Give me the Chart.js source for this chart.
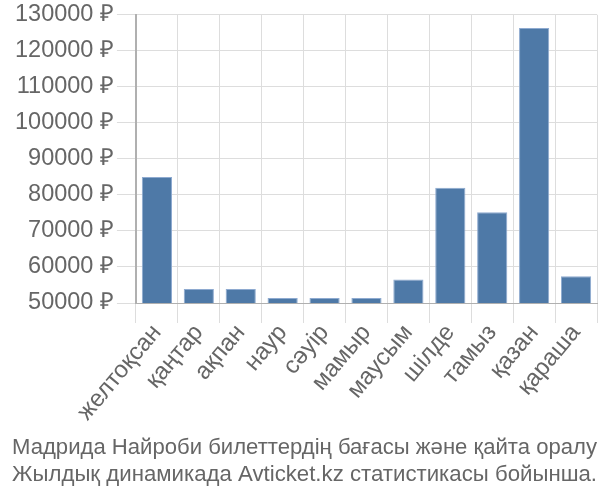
<!DOCTYPE html>
<html>
<head>
<meta charset="utf-8">
<script src="https://cdn.jsdelivr.net/npm/chart.js@4"></script>
<style>
  html, body { margin: 0; padding: 0; background: #fff; }
  #wrap { width: 600px; height: 500px; }
</style>
</head>
<body>
<div id="wrap"><canvas id="chart" width="600" height="500"></canvas></div>
<script>
const months = ['желтоқсан', 'қаңтар', 'ақпан', 'наур', 'сәуір', 'мамыр', 'маусым', 'шілде', 'тамыз', 'қазан', 'қараша'];
const prices = [85000, 53900, 53900, 51400, 51400, 51400, 56500, 82000, 75200, 126300, 57400];
const yTicks = [50000, 60000, 70000, 80000, 90000, 100000, 110000, 120000, 130000];
const titleLines = ['Мадрида Найроби билеттердің бағасы және қайта оралу', 'Жылдық динамикада Avticket.kz статистикасы бойынша.'];

const textColor = '#666';
const fontFamily = '"Liberation Sans", Arial, sans-serif';

new Chart(document.getElementById('chart'), {
    type: 'bar',
    data: {
        labels: months,
        datasets: [{
            data: prices,
            backgroundColor: '#4e79a7',
            borderColor: '#8eaad0',
            borderWidth: 1,
        }],
    },
    options: {
        responsive: false,
        animation: false,
        layout: { padding: { top: 2, right: 3, left: 12, bottom: 0 } },
        plugins: {
            legend: { display: false },
            tooltip: { enabled: false },
            title: {
                display: true,
                position: 'bottom',
                text: titleLines,
                color: textColor,
                font: { family: fontFamily, size: 22.5, weight: 'normal', lineHeight: 1.2 },
                padding: { top: 12, bottom: 12 },
            },
        },
        scales: {
            x: {
                afterFit: (axis) => { axis.height = 119; },
                grid: { color: '#ddd', lineWidth: 1, tickLength: 20 },
                border: { color: '#b0b0b0', width: 1 },
                ticks: {
                    color: textColor,
                    font: { family: fontFamily, size: 24 },
                    maxRotation: 50,
                    minRotation: 50,
                    padding: -4,
                },
            },
            y: {
                min: 50000,
                max: 130000,
                afterBuildTicks: (axis) => { axis.ticks = yTicks.map(v => ({ value: v })); },
                grid: { color: '#ddd', lineWidth: 1, tickLength: 19 },
                border: { color: '#b0b0b0', width: 2 },
                ticks: {
                    color: textColor,
                    font: { family: fontFamily, size: 23.5, lineHeight: 1.0 },
                    padding: 3,
                    callback: (v) => v + ' ₽',
                },
            },
        },
    },
});
</script>
</body>
</html>
